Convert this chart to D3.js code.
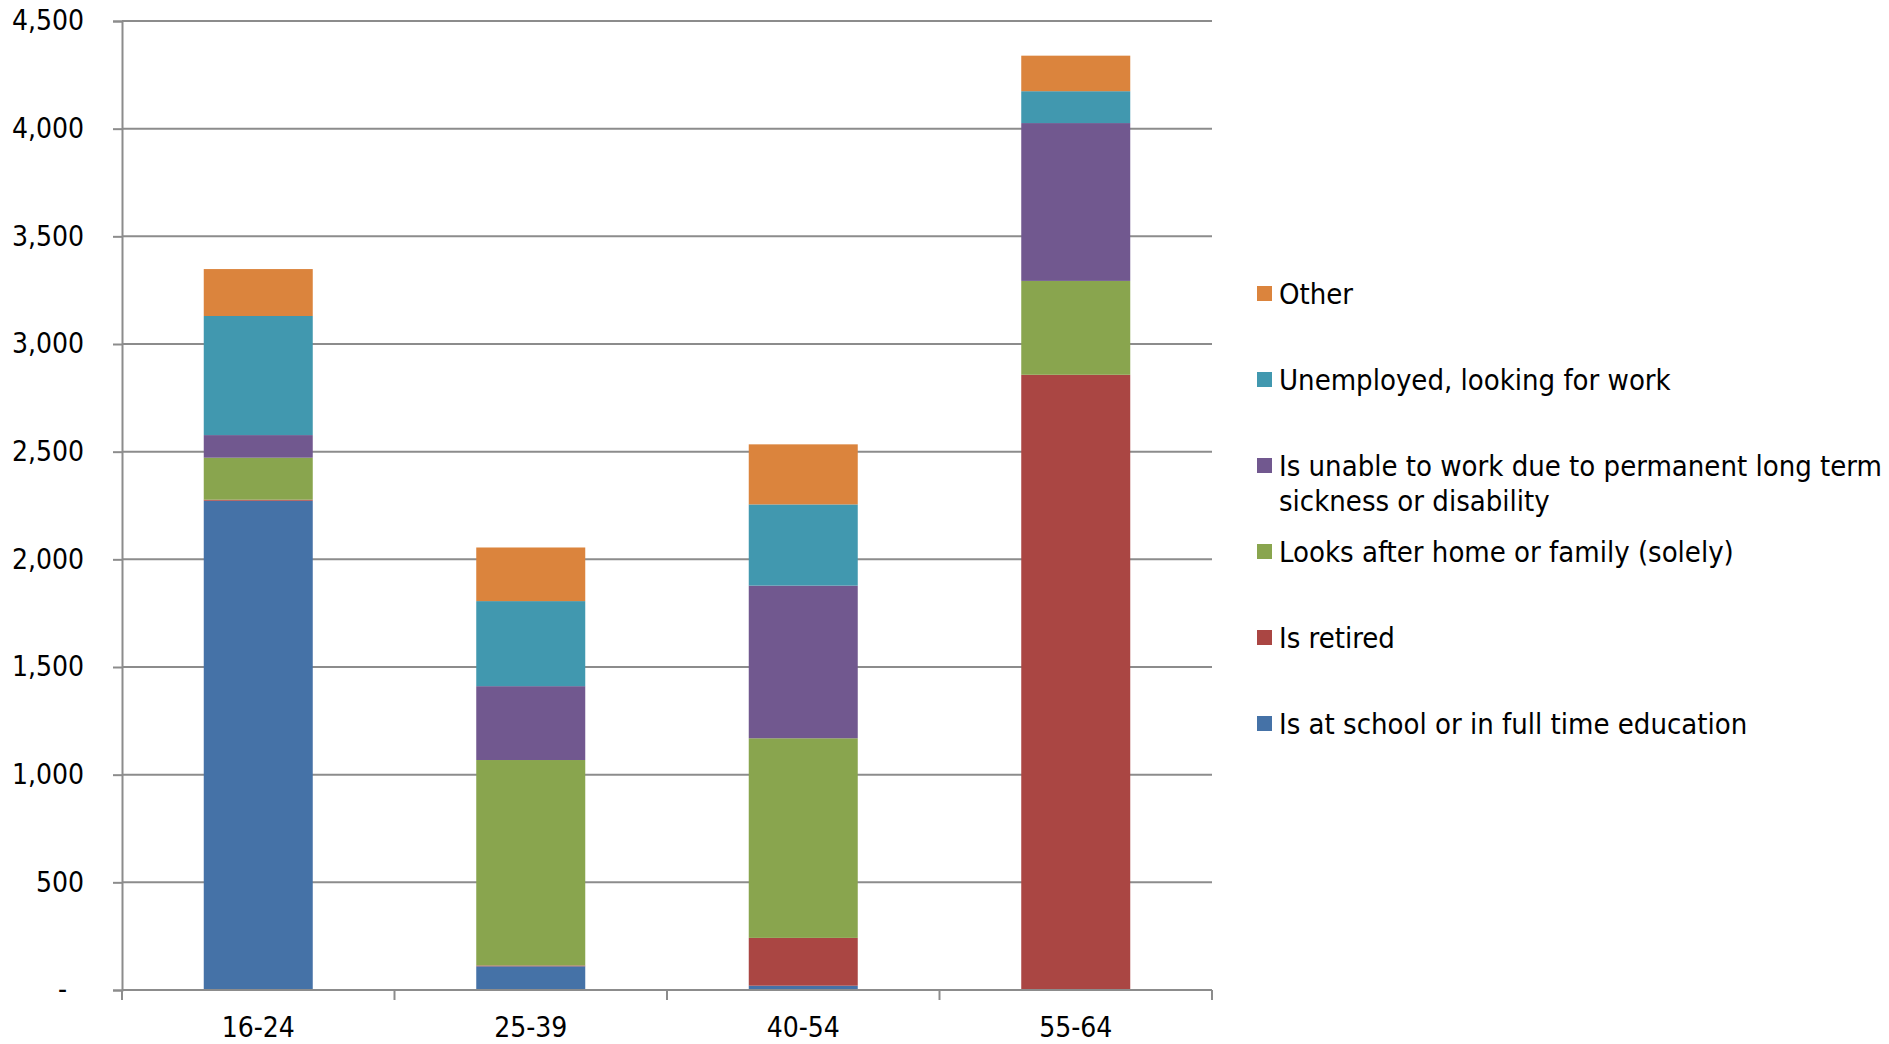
<!DOCTYPE html>
<html>
<head>
<meta charset="utf-8">
<script src="https://cdn.jsdelivr.net/npm/d3@7"></script>
<style>
  body { margin: 0; background: #fff; }
  svg text { font-family: "DejaVu Sans Condensed", "DejaVu Sans", sans-serif; fill: #000; }
</style>
</head>
<body>
<div id="chart"></div>
<script>
const width = 1889;
const height = 1044;

// age groups along the x axis
const ageGroups = ["16-24", "25-39", "40-54", "55-64"];

// one array per series, bottom of the stack first
const atSchool     = [2272, 110, 20, 0];
const retired      = [5, 4, 222, 2857];
const homeFamily   = [195, 954, 927, 436];
const unableToWork = [105, 343, 709, 733];
const unemployed   = [553, 395, 377, 148];
const other        = [218, 249, 279, 165];

const seriesNames = [
  "Is at school or in full time education",
  "Is retired",
  "Looks after home or family (solely)",
  "Is unable to work due to permanent long term\nsickness or disability",
  "Unemployed, looking for work",
  "Other"
];
const seriesColors = ["#4572A7", "#AA4643", "#89A54E", "#71588F", "#4198AF", "#DB843D"];
const seriesValues = [atSchool, retired, homeFamily, unableToWork, unemployed, other];

const yTicks = [0, 500, 1000, 1500, 2000, 2500, 3000, 3500, 4000, 4500];

const plotLeft = 122;
const plotRight = 1212;
const plotTop = 21;
const plotBottom = 990;
const gridColor = "#8c8c8c";

const svg = d3.select("#chart")
  .append("svg")
  .attr("width", width)
  .attr("height", height);

const x = d3.scaleBand()
  .domain(ageGroups)
  .range([plotLeft, plotRight])
  .padding(0);

const y = d3.scaleLinear()
  .domain([0, 4500])
  .range([plotBottom, plotTop]);

// build rows for d3.stack from the series arrays
const keys = seriesNames.map((n, i) => "s" + i);
const rows = ageGroups.map((g, j) => {
  const row = { group: g };
  seriesValues.forEach((vals, i) => { row[keys[i]] = vals[j]; });
  return row;
});
const stacked = d3.stack().keys(keys)(rows);

// horizontal gridlines
svg.append("g")
  .selectAll("line")
  .data(yTicks)
  .join("line")
  .attr("x1", plotLeft)
  .attr("x2", plotRight)
  .attr("y1", d => y(d))
  .attr("y2", d => y(d))
  .attr("stroke", gridColor)
  .attr("stroke-width", 2);

// bars, 40% of the band, centred
const barWidth = x.bandwidth() * 0.4;
svg.append("g")
  .selectAll("g")
  .data(stacked)
  .join("g")
  .attr("fill", (d, i) => seriesColors[i])
  .selectAll("rect")
  .data(d => d)
  .join("rect")
  .attr("x", d => x(d.data.group) + (x.bandwidth() - barWidth) / 2)
  .attr("width", barWidth)
  .attr("y", d => y(d[1]))
  .attr("height", d => y(d[0]) - y(d[1]));

// y axis
const yAxis = svg.append("g")
  .attr("transform", `translate(${plotLeft},0)`)
  .call(d3.axisLeft(y)
    .tickValues(yTicks)
    .tickSize(9)
    .tickPadding(29)
    .tickFormat(d => d === 0 ? "-" : d3.format(",")(d)));

yAxis.select(".domain").attr("stroke", gridColor).attr("stroke-width", 2);
yAxis.selectAll(".tick line").attr("stroke", gridColor).attr("stroke-width", 2);
yAxis.selectAll(".tick text")
  .attr("font-size", 28)
  .attr("fill", "#000")
  .style("font-family", "'DejaVu Sans Condensed', sans-serif");
// the zero dash sits a bit in from the right edge like the accounting format
yAxis.selectAll(".tick text").filter(d => d === 0).attr("x", -55);

// x axis line with ticks at band edges
const xAxis = svg.append("g")
  .attr("transform", `translate(0,${plotBottom})`)
  .call(d3.axisBottom(x).tickSize(0).tickPadding(27));

xAxis.select(".domain").remove();
xAxis.selectAll(".tick text")
  .attr("font-size", 28)
  .attr("fill", "#000")
  .style("font-family", "'DejaVu Sans Condensed', sans-serif");

xAxis.append("line")
  .attr("x1", plotLeft)
  .attr("x2", plotRight)
  .attr("stroke", gridColor)
  .attr("stroke-width", 2);

const edges = ageGroups.map(g => x(g)).concat([x(ageGroups[ageGroups.length - 1]) + x.bandwidth()]);
xAxis.selectAll(".edge")
  .data(edges)
  .join("line")
  .attr("class", "edge")
  .attr("x1", d => d)
  .attr("x2", d => d)
  .attr("y1", 0)
  .attr("y2", 10)
  .attr("stroke", gridColor)
  .attr("stroke-width", 2);

// legend, top entry is the top of the stack
const legendOrder = d3.range(seriesNames.length).reverse();
const legend = svg.append("g")
  .selectAll("g")
  .data(legendOrder)
  .join("g")
  .attr("transform", (d, i) => `translate(1257,${294 + i * 86})`);

legend.append("rect")
  .attr("x", 0)
  .attr("y", -8)
  .attr("width", 15)
  .attr("height", 15)
  .attr("fill", d => seriesColors[d]);

legend.append("text")
  .attr("x", 22)
  .attr("y", 0)
  .attr("font-size", 29)
  .each(function(d) {
    const lines = seriesNames[d].split("\n");
    const t = d3.select(this);
    lines.forEach((line, k) => {
      t.append("tspan")
        .attr("x", 22)
        .attr("dy", k === 0 ? "0.35em" : 35)
        .text(line);
    });
  });
</script>
</body>
</html>
